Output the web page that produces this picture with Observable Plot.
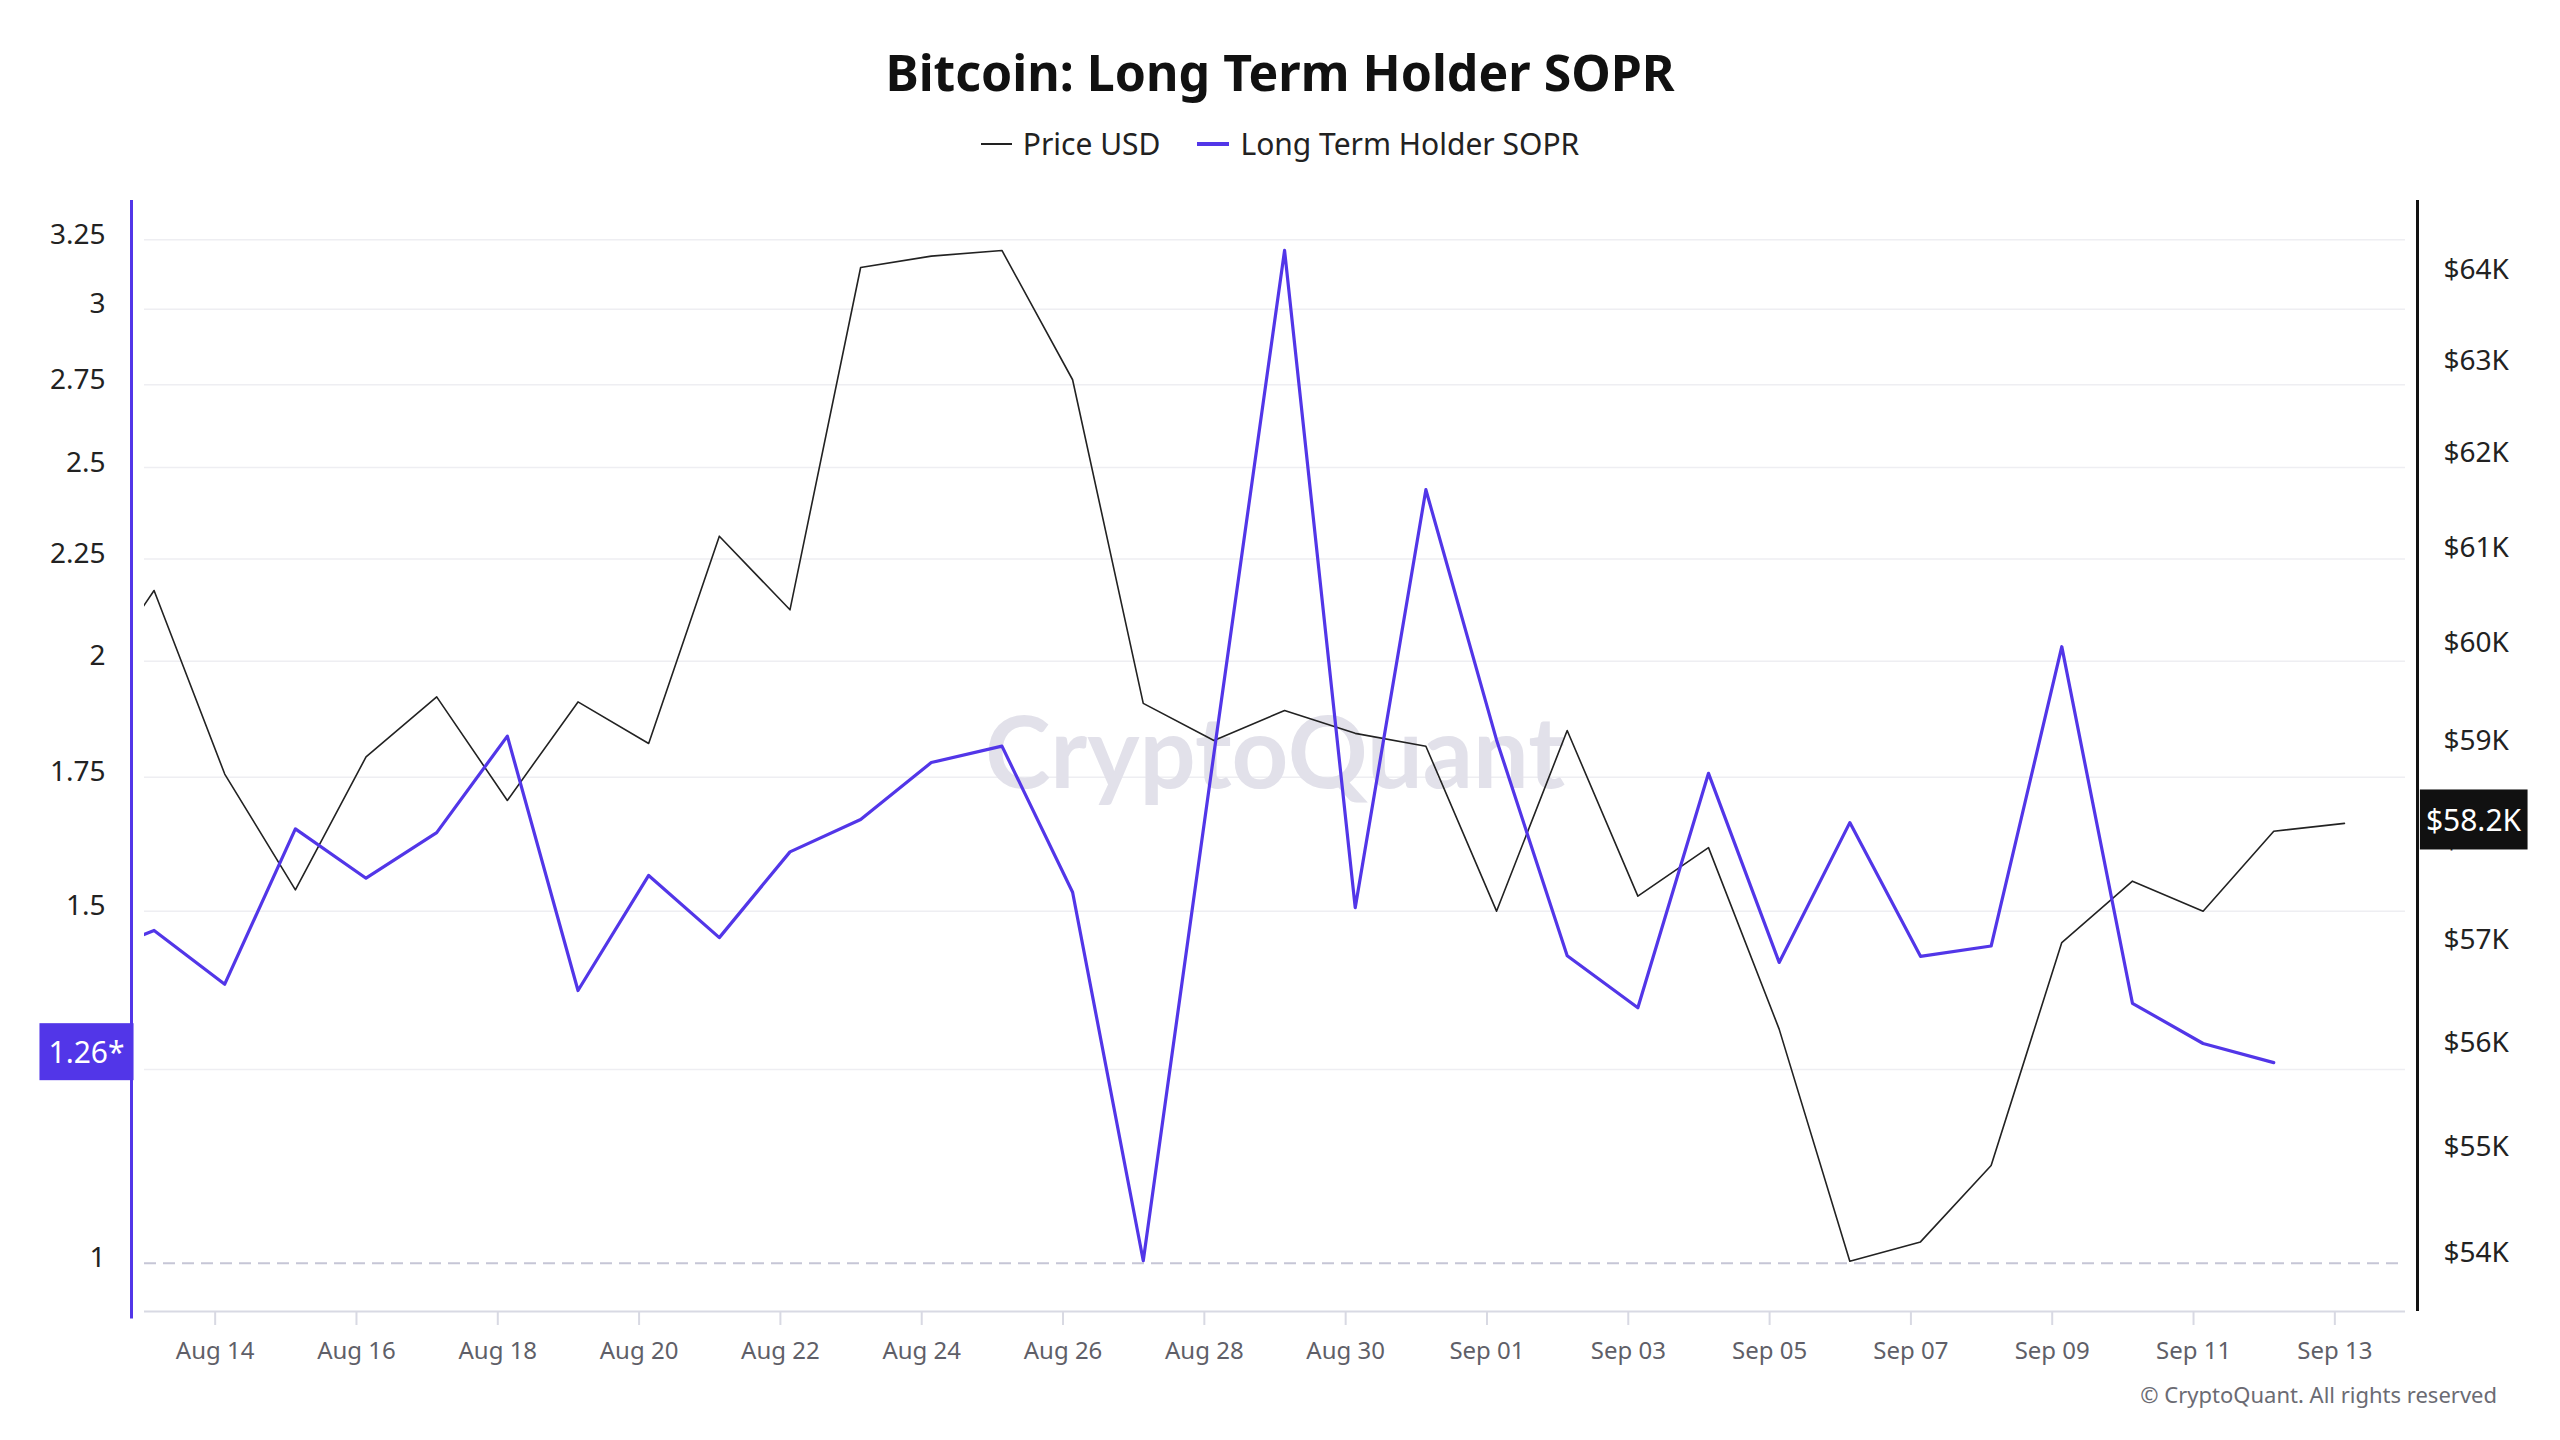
<!DOCTYPE html>
<html>
<head>
<meta charset="utf-8">
<script src="https://cdn.jsdelivr.net/npm/d3@7"></script>
<script src="https://cdn.jsdelivr.net/npm/@observablehq/plot@0.6"></script>
<style>
  html, body { margin: 0; padding: 0; background: #ffffff; }
  #wrap { position: relative; width: 2560px; height: 1440px; background: #ffffff; font-family: "Noto Sans", sans-serif; }
  #title { position: absolute; left: 0; top: 40px; width: 2560px; text-align: center; font-weight: 700; font-size: 50px; line-height: 64px; color: #111; }
  #legend { position: absolute; left: 0; top: 124px; width: 2560px; display: flex; justify-content: center; align-items: center; font-size: 30px; line-height: 40px; color: #222; }
  .item { display: flex; align-items: center; }
  .sw { display: inline-block; margin-right: 11px; }
  #chart { position: absolute; left: 0; top: 170px; }
  #copy { position: absolute; right: 63px; top: 1378px; font-size: 22px; line-height: 32px; color: #6b6b73; }
</style>
</head>
<body>
<div id="wrap">
  <div id="title"></div>
  <div id="legend"></div>
  <div id="chart"></div>
  <div id="copy"></div>
</div>
<script>
// ---------- data ----------
const titleText = "Bitcoin: Long Term Holder SOPR";
const seriesNames = ["Price USD", "Long Term Holder SOPR"];
const copyright = "© CryptoQuant. All rights reserved";
const watermark = "CryptoQuant";

const dates = [
  "2024-08-12","2024-08-13","2024-08-14","2024-08-15","2024-08-16","2024-08-17","2024-08-18",
  "2024-08-19","2024-08-20","2024-08-21","2024-08-22","2024-08-23","2024-08-24","2024-08-25",
  "2024-08-26","2024-08-27","2024-08-28","2024-08-29","2024-08-30","2024-08-31","2024-09-01",
  "2024-09-02","2024-09-03","2024-09-04","2024-09-05","2024-09-06","2024-09-07","2024-09-08",
  "2024-09-09","2024-09-10","2024-09-11","2024-09-12","2024-09-13"
];
const priceUSD = [
  59520, 60603, 58712, 57550, 58886, 59500, 58445,
  59448, 59023, 61174, 60401, 64079, 64205, 64268,
  62849, 59433, 59053, 59360, 59126, 58995, 57338,
  59155, 57487, 57971, 56182, 53975, 54155, 54874,
  57028, 57636, 57338, 58135, 58214
];
const lthSopr = [
  1.421, 1.467, 1.379, 1.649, 1.558, 1.642, 1.835,
  1.369, 1.563, 1.455, 1.606, 1.667, 1.780, 1.814,
  1.533, 1.003, 1.798, 3.210, 1.506, 2.437, 1.827,
  1.425, 1.342, 1.758, 1.414, 1.661, 1.424, 1.441,
  2.034, 1.349, 1.288, 1.26
];
const xTickDates = [
  "2024-08-14","2024-08-16","2024-08-18","2024-08-20","2024-08-22","2024-08-24","2024-08-26",
  "2024-08-28","2024-08-30","2024-09-01","2024-09-03","2024-09-05","2024-09-07","2024-09-09",
  "2024-09-11","2024-09-13"
];
const soprTicks = [1, 1.5, 1.75, 2, 2.25, 2.5, 2.75, 3, 3.25];
const soprGrid = [1.25, 1.5, 1.75, 2, 2.25, 2.5, 2.75, 3, 3.25];
const priceTicks = [54000, 55000, 56000, 57000, 58000, 59000, 60000, 61000, 62000, 63000, 64000];
const xDomainDates = ["2024-08-13", "2024-09-14"];
const soprDomain = [0.946, 3.40];
const priceDomain = [53508, 64825];

// ---------- styling ----------
const PURPLE = "#5236e8";
const PRICE_COLOR = "#222222";
const FONT = "Noto Sans";

// ---------- title / legend / caption ----------
document.getElementById("title").textContent = titleText;
document.getElementById("copy").textContent = copyright;
const legend = document.getElementById("legend");
[[seriesNames[0], PRICE_COLOR, 1.5, 31], [seriesNames[1], PURPLE, 4, 32]].forEach(([name, color, sw, w], i) => {
  const it = document.createElement("div");
  it.className = "item";
  if (i > 0) it.style.marginLeft = "37px";
  const s = document.createElement("span");
  s.className = "sw";
  s.style.width = w + "px";
  s.style.height = sw + "px";
  s.style.background = color;
  const t = document.createElement("span");
  t.textContent = name;
  it.appendChild(s); it.appendChild(t);
  legend.appendChild(it);
});

// ---------- chart ----------
const obsTime = d => new Date(d + "T03:15:00Z");
const dayStart = d => new Date(d + "T00:00:00Z");
const xDomain = xDomainDates.map(dayStart);
const p2s = d3.scaleLog().domain(priceDomain).range(soprDomain.map(Math.log));
const toS = p => Math.exp(p2s(p));
const toP = s => p2s.invert(Math.log(s));

const priceRows = dates.map((d, i) => ({date: obsTime(d), price: priceUSD[i]}));
const soprRows = lthSopr.map((v, i) => ({date: obsTime(dates[i]), sopr: v}));
const lastSopr = lthSopr[lthSopr.length - 1];
const lastPrice = priceUSD[priceUSD.length - 1];
const soprBadge = lastSopr.toFixed(2) + "*";
const priceBadge = "$" + (lastPrice / 1000).toFixed(1) + "K";

const W = 2560, H = 1205;
const svg = Plot.plot({
  width: W, height: H,
  marginLeft: 144, marginRight: 155, marginTop: 30, marginBottom: 64,
  style: {fontFamily: FONT, fontSize: "28px", background: "transparent", color: "#222", overflow: "visible"},
  x: {type: "utc", domain: xDomain, axis: null},
  y: {type: "log", domain: soprDomain, axis: null},
  marks: [
    Plot.ruleY(soprGrid, {stroke: "#eeeef2", strokeWidth: 1.5}),
    Plot.ruleY([1], {stroke: "#c6c6d6", strokeWidth: 2, strokeDasharray: "12,7"}),
    Plot.text([watermark], {frameAnchor: "middle", text: d => d, fontSize: 99, fontWeight: 700, fill: "#e2e1ea", fontFamily: "Lato"}),
    Plot.ruleY([soprDomain[0]], {stroke: "#d8d9e3", strokeWidth: 2}),
    Plot.axisX(xTickDates.map(dayStart), {
      tickFormat: d3.utcFormat("%b %d"), tickSize: 14, tickPadding: 16, label: null,
      stroke: "#d8d9e3", strokeWidth: 2, fill: "#5f5f68", fontSize: 24
    }),
    Plot.axisY(soprTicks, {anchor: "left", tickSize: 0, tickPadding: 39, label: null, dy: -5,
      tickFormat: d => String(d), fontSize: 28, fill: "#222"}),
    Plot.axisY(priceTicks.map(toS), {anchor: "right", tickSize: 0, tickPadding: 38, label: null, dy: -5,
      tickFormat: d => "$" + Math.round(toP(d) / 1000) + "K", fontSize: 28, fill: "#222"}),
    Plot.ruleX([xDomain[0]], {dx: -13, y1: 0.938, y2: soprDomain[1], stroke: PURPLE, strokeWidth: 3}),
    Plot.ruleX([xDomain[1]], {dx: 12, stroke: "#111", strokeWidth: 3}),
    Plot.line(priceRows, {x: "date", y: d => toS(d.price), stroke: PRICE_COLOR, strokeWidth: 1.6, clip: true}),
    Plot.line(soprRows, {x: "date", y: "sopr", stroke: PURPLE, strokeWidth: 3.2, clip: true}),
    Plot.text([lastSopr], {frameAnchor: "left", textAnchor: "middle", y: d => d, dx: -58, dy: -9,
      text: () => soprBadge, fill: "white", fontSize: 30}),
    Plot.text([lastPrice], {frameAnchor: "right", textAnchor: "middle", y: d => toS(d), dx: 68, dy: -2,
      text: () => priceBadge, fill: "white", fontSize: 30})
  ]
});
document.getElementById("chart").appendChild(svg);

// badge backgrounds behind the last-value labels
[[soprBadge, PURPLE, 57, 9], [priceBadge, "#111", 60, 6]].forEach(([label, color, h, padX]) => {
  const t = [...svg.querySelectorAll("text")].find(e => e.textContent === label);
  if (!t) return;
  const b = t.getBBox();
  const cy = b.y + b.height / 2;
  const r = document.createElementNS("http://www.w3.org/2000/svg", "rect");
  r.setAttribute("x", b.x - padX);
  r.setAttribute("y", cy - h / 2);
  r.setAttribute("width", b.width + 2 * padX);
  r.setAttribute("height", h);
  r.setAttribute("fill", color);
  const tr = t.getAttribute("transform");
  if (tr) r.setAttribute("transform", tr);
  t.parentNode.insertBefore(r, t);
});
</script>
</body>
</html>
